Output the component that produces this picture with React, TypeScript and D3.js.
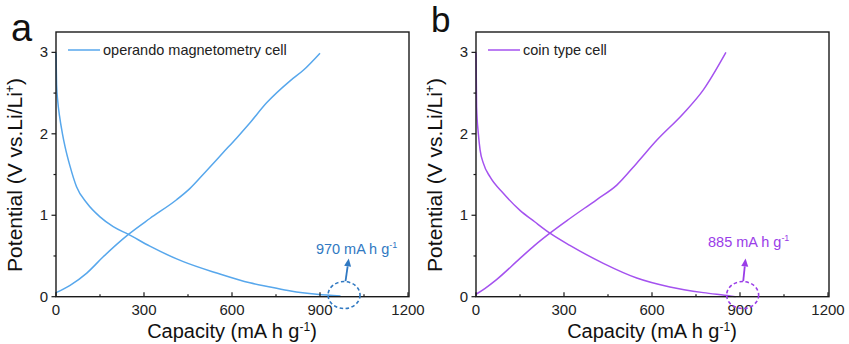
import React from "react";
import * as d3 from "d3";

// ---------- data ----------
const xTicks = [0, 300, 600, 900, 1200];
const xMinor = [150, 450, 750, 1050];
const yTicks = [0, 1, 2, 3];
const yMinor = [0.5, 1.5, 2.5];

const aDischargeCap = [0, 2, 6, 12, 22, 31, 48, 70, 105, 150, 195, 247, 320, 434, 548, 661, 730, 800, 889, 970];
const aDischargeV = [3.0, 2.6, 2.4, 2.22, 2.0, 1.84, 1.6, 1.35, 1.15, 0.98, 0.86, 0.765, 0.62, 0.43, 0.29, 0.17, 0.12, 0.07, 0.03, 0.01];
const aChargeCap = [0, 48, 105, 161, 247, 320, 411, 457, 514, 570, 616, 660, 718, 798, 843, 900];
const aChargeV = [0.05, 0.14, 0.29, 0.49, 0.765, 0.96, 1.19, 1.33, 1.55, 1.77, 1.95, 2.13, 2.38, 2.65, 2.78, 2.99];

const bDischargeCap = [0, 2, 8, 14, 25, 48, 93, 150, 200, 252, 320, 434, 548, 661, 775, 866, 885];
const bDischargeV = [3.0, 2.33, 2.0, 1.8, 1.64, 1.47, 1.27, 1.06, 0.92, 0.78, 0.63, 0.41, 0.23, 0.12, 0.05, 0.01, 0.0];
const bChargeCap = [0, 30, 70, 150, 200, 252, 320, 411, 480, 548, 616, 707, 775, 852];
const bChargeV = [0.03, 0.1, 0.21, 0.47, 0.63, 0.78, 0.96, 1.19, 1.37, 1.64, 1.92, 2.25, 2.54, 3.0];

const panelLetters = ["a", "b"];
const legendLabels = ["operando magnetometry cell", "coin type cell"];
const annotationValues = ["970 mA h g", "885 mA h g"];
const circleCenterCap = [982, 909];
const arrowFromCap = [987, 911];
const arrowToCap = [998, 919];
const labelCap = [886, 791];
const labelV = [0.52, 0.61];

const lineColors = ["#57a7ec", "#a452ef"];
const annoColors = ["#3079c2", "#9a3de8"];

// ---------- layout ----------
const W = 849;
const H = 344;
const panelLeft = [56, 476];
const plotW = 353;
const top = 32;
const bottom = 296.7;
const font = "Arial, 'Liberation Sans', sans-serif";
const letterSize = [38, 35];
const letterBase = [41, 32];

function Panel({ idx }: { idx: number }) {
  const x0 = panelLeft[idx];
  const x = d3.scaleLinear().domain([0, 1200]).range([x0, x0 + 352]);
  const y = d3.scaleLinear().domain([0, 3.25]).range([bottom, top]);
  const line = d3
    .line<[number, number]>()
    .x((d) => x(d[0]))
    .y((d) => y(d[1]))
    .curve(d3.curveMonotoneX);

  const dc = idx === 0 ? aDischargeCap : bDischargeCap;
  const dv = idx === 0 ? aDischargeV : bDischargeV;
  const cc = idx === 0 ? aChargeCap : bChargeCap;
  const cv = idx === 0 ? aChargeV : bChargeV;
  const dis = dc.map((c, i) => [c, dv[i]] as [number, number]);
  const chg = cc.map((c, i) => [c, cv[i]] as [number, number]);
  const col = lineColors[idx];
  const acol = annoColors[idx];
  const axisCol = "#1a1a1a";

  const cx = x(circleCenterCap[idx]);
  const cy = y(0.02);
  const ax1 = x(arrowFromCap[idx]);
  const ay1 = y(0.19);
  const ax2 = x(arrowToCap[idx]);
  const ay2 = y(0.47);
  const ang = Math.atan2(ay2 - ay1, ax2 - ax1);
  const hl = 8;
  const hw = 3.5;
  const bx = ax2 - hl * Math.cos(ang);
  const by = ay2 - hl * Math.sin(ang);
  const head = `M${ax2},${ay2} L${bx - hw * Math.sin(ang)},${by + hw * Math.cos(ang)} L${bx + hw * Math.sin(ang)},${by - hw * Math.cos(ang)} Z`;

  const yLabelX = idx === 0 ? 22 : 442;

  return (
    <g>
      <text x={x0 - 45} y={letterBase[idx]} fontSize={letterSize[idx]} fontFamily={font} fill="#111">
        {panelLetters[idx]}
      </text>
      {/* curves */}
      <path d={line(dis) || ""} fill="none" stroke={col} strokeWidth={1.5} />
      <path d={line(chg) || ""} fill="none" stroke={col} strokeWidth={1.5} />
      {/* frame */}
      <rect x={x0} y={top} width={plotW} height={bottom - top} fill="none" stroke={axisCol} strokeWidth={1.4} />
      {/* x ticks (inward) */}
      {xTicks.map((t) => (
        <line key={"xt" + t} x1={x(t)} x2={x(t)} y1={bottom} y2={bottom - 4.5} stroke={axisCol} strokeWidth={1.2} />
      ))}
      {xMinor.map((t) => (
        <line key={"xm" + t} x1={x(t)} x2={x(t)} y1={bottom} y2={bottom - 2.5} stroke={axisCol} strokeWidth={1.2} />
      ))}
      {xTicks.map((t) => (
        <text key={"xl" + t} x={x(t)} y={bottom + 18} fontSize={15} fontFamily={font} textAnchor="middle" fill="#222">
          {t}
        </text>
      ))}
      {/* y ticks (outward) */}
      {yTicks.map((t) => (
        <line key={"yt" + t} x1={x0} x2={x0 - 4.5} y1={y(t)} y2={y(t)} stroke={axisCol} strokeWidth={1.2} />
      ))}
      {yMinor.map((t) => (
        <line key={"ym" + t} x1={x0} x2={x0 - 2.5} y1={y(t)} y2={y(t)} stroke={axisCol} strokeWidth={1.2} />
      ))}
      {yTicks.map((t) => (
        <text key={"yl" + t} x={x0 - 8} y={y(t) + 5} fontSize={15} fontFamily={font} textAnchor="end" fill="#222">
          {t}
        </text>
      ))}
      {/* axis titles */}
      <text x={x(600)} y={338} fontSize={20} fontFamily={font} textAnchor="middle" fill="#111">
        Capacity (mA h g
        <tspan fontSize={12} dy={-7}>-1</tspan>
        <tspan dy={7}>)</tspan>
      </text>
      <text
        transform={`translate(${yLabelX},175) rotate(-90)`}
        fontSize={21}
        fontFamily={font}
        textAnchor="middle"
        fill="#111"
      >
        Potential (V vs.Li/Li
        <tspan fontSize={12} dy={-8}>+</tspan>
        <tspan dy={8}>)</tspan>
      </text>
      {/* legend */}
      <line x1={x0 + 12} x2={x0 + 44} y1={50} y2={50} stroke={col} strokeWidth={1.5} />
      <text x={x0 + 47} y={55} fontSize={14.5} fontFamily={font} fill="#222">
        {legendLabels[idx]}
      </text>
      {/* annotation */}
      <ellipse cx={cx} cy={cy} rx={16} ry={13.5} fill="none" stroke={acol} strokeWidth={1.6} strokeDasharray="3.5,2.5" />
      <line x1={ax1} y1={ay1} x2={bx} y2={by} stroke={acol} strokeWidth={1.8} />
      <path d={head} fill={acol} />
      <text x={x(labelCap[idx])} y={y(labelV[idx])} fontSize={14.5} fontFamily={font} fill={acol}>
        {annotationValues[idx]}
        <tspan fontSize={9} dy={-6}>-1</tspan>
      </text>
    </g>
  );
}

export default function App() {
  return (
    <svg
      width={W}
      height={H}
      style={{ position: "absolute", left: 0, top: 0, display: "block", background: "#fff" }}
    >
      <rect width={W} height={H} fill="#fff" />
      <Panel idx={0} />
      <Panel idx={1} />
    </svg>
  );
}
